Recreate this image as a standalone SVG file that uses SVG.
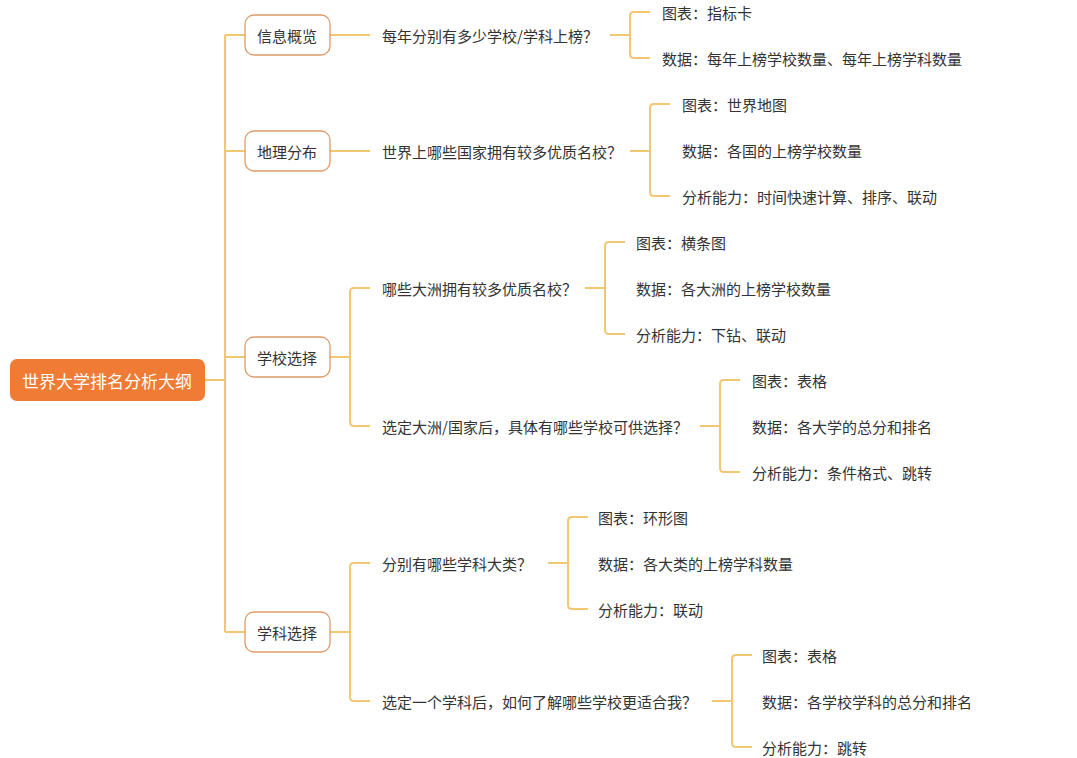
<svg xmlns="http://www.w3.org/2000/svg" width="1077" height="758" viewBox="0 0 1077 758">
<style>
text{font-family:"Noto Sans CJK SC","Noto Sans",sans-serif;font-size:15px;fill:#333;dominant-baseline:central}
.c{fill:none;stroke:#f3c772;stroke-width:2;stroke-linejoin:round}
.n1 rect{fill:#fff;stroke:#e09a68;stroke-width:1.3}
.n1 text{text-anchor:middle}
</style>
<rect width="1077" height="758" fill="#fff"/>
<g id="connectors" class="c">
<path d="M205 380H225M225 35V632M225 35H245M225 151H245M225 357H245M225 632H245"/>
<path d="M330 35H370M330 151H370"/>
<path d="M330 357H350M370 288H354Q350 288 350 292V422Q350 426 354 426H370"/>
<path d="M330 632H350M370 563H354Q350 563 350 567V697Q350 701 354 701H370"/>
<path d="M610 35H630M650 12H634Q630 12 630 16V54Q630 58 634 58H650"/>
<path d="M630 151H650M670 104H654Q650 104 650 108V192Q650 196 654 196H670"/>
<path d="M585 288H605M625 242H609Q605 242 605 246V330Q605 334 609 334H625"/>
<path d="M700 426H720M740 380H724Q720 380 720 384V468Q720 472 724 472H740"/>
<path d="M548 563H568M588 517H572Q568 517 568 521V605Q568 609 572 609H588"/>
<path d="M712 701H732M752 655H736Q732 655 732 659V743Q732 747 736 747H752"/>
</g>
<g id="root"><rect x="10" y="359" width="195" height="42" rx="7" fill="#f07b34"/><text x="107" y="380" text-anchor="middle" style="fill:#fff;font-size:17px">世界大学排名分析大纲</text></g>
<g id="n-info" class="n1"><rect x="245" y="15" width="85" height="40" rx="9"/><text x="287" y="35">信息概览</text></g>
<g id="n-geo" class="n1"><rect x="245" y="131" width="85" height="40" rx="9"/><text x="287" y="151">地理分布</text></g>
<g id="n-school" class="n1"><rect x="245" y="337" width="85" height="40" rx="9"/><text x="287" y="357">学校选择</text></g>
<g id="n-subject" class="n1"><rect x="245" y="612" width="85" height="40" rx="9"/><text x="287" y="632">学科选择</text></g>
<g id="questions">
<text x="382" y="35">每年分别有多少学校/学科上榜？</text>
<text x="382" y="151">世界上哪些国家拥有较多优质名校？</text>
<text x="382" y="288">哪些大洲拥有较多优质名校？</text>
<text x="382" y="426">选定大洲/国家后，具体有哪些学校可供选择？</text>
<text x="382" y="563">分别有哪些学科大类？</text>
<text x="382" y="701">选定一个学科后，如何了解哪些学校更适合我？</text>
</g>
<g id="leaves">
<text x="662" y="12">图表：指标卡</text>
<text x="662" y="58">数据：每年上榜学校数量、每年上榜学科数量</text>
<text x="682" y="104">图表：世界地图</text>
<text x="682" y="150">数据：各国的上榜学校数量</text>
<text x="682" y="196">分析能力：时间快速计算、排序、联动</text>
<text x="636" y="242">图表：横条图</text>
<text x="636" y="288">数据：各大洲的上榜学校数量</text>
<text x="636" y="334">分析能力：下钻、联动</text>
<text x="752" y="380">图表：表格</text>
<text x="752" y="426">数据：各大学的总分和排名</text>
<text x="752" y="472">分析能力：条件格式、跳转</text>
<text x="598" y="517">图表：环形图</text>
<text x="598" y="563">数据：各大类的上榜学科数量</text>
<text x="598" y="609">分析能力：联动</text>
<text x="762" y="655">图表：表格</text>
<text x="762" y="701">数据：各学校学科的总分和排名</text>
<text x="762" y="747">分析能力：跳转</text>
</g>
</svg>
